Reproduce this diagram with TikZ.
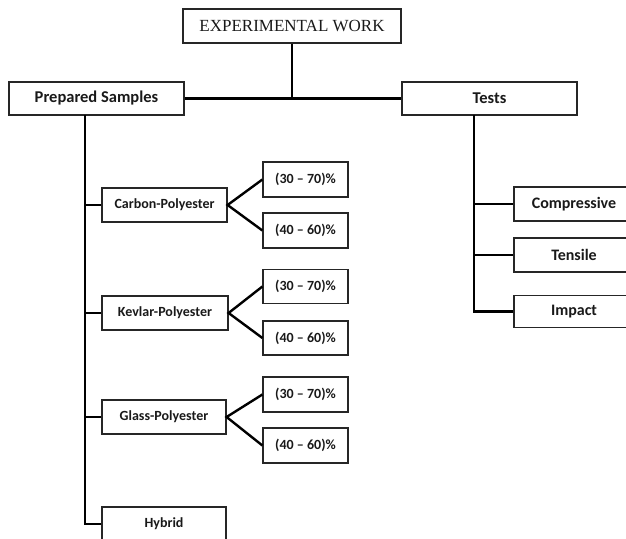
\documentclass[tikz,border=0pt]{standalone}
\usepackage{fontspec}
\setmainfont{Carlito}
\newfontfamily\serifface{Liberation Serif}
\begin{document}
\begin{tikzpicture}[x=1pt,y=-1pt,
  box/.style={draw=black!85, line width=1.2pt, rectangle, inner sep=0pt, anchor=center, text=black!90},
  big/.style={box, font=\fontsize{16.5}{18}\selectfont\bfseries},
  sub/.style={box, minimum width=125pt, minimum height=34pt, font=\fontsize{14}{16}\selectfont\bfseries},
  pct/.style={box, minimum width=85pt, minimum height=35pt, font=\fontsize{14}{16}\selectfont\bfseries},
  testbox/.style={box, minimum width=120pt, minimum height=34pt, font=\fontsize{16}{18}\selectfont\bfseries},
  conn/.style={line width=2.4pt, black}
]
\useasboundingbox (0,0) rectangle (626,538);
\clip (0,0) rectangle (626,538);

\node[box, minimum width=218pt, minimum height=34pt, font=\serifface\fontsize{17}{19}\selectfont] (ew) at (292,26) {EXPERIMENTAL WORK};
\node[big, minimum width=175pt, minimum height=33pt] (ps) at (96.5,98.5) {Prepared Samples};
\node[big, minimum width=175pt, minimum height=33pt] (tests) at (489.5,98.5) {Tests};

\node[sub] (carbon) at (164.5,205) {Carbon-Polyester};
\node[pct] (c30) at (305.5,179.5) {(30 – 70)\%};
\node[pct] (c40) at (305.5,230.5) {(40 – 60)\%};

\node[sub, minimum width=126pt] (kevlar) at (165,313) {Kevlar-Polyester};
\node[pct, minimum height=34pt] (k30) at (305.5,286.5) {(30 – 70)\%};
\node[pct, minimum height=34pt] (k40) at (305.5,338) {(40 – 60)\%};

\node[sub, minimum width=124pt] (glass) at (164,417) {Glass-Polyester};
\node[pct] (g30) at (305.5,394.5) {(30 – 70)\%};
\node[pct] (g40) at (305.5,445.5) {(40 – 60)\%};

\node[sub, minimum width=124pt] (hybrid) at (164,524) {Hybrid};

\node[testbox] (comp) at (574,204) {Compressive};
\node[testbox] (tens) at (574,255) {Tensile};
\node[testbox, minimum height=32pt] (imp) at (574,311.5) {Impact};

% top connectors
\coordinate (j) at (ew.south |- ps.east);
\draw[conn] (ps.east) -- (tests.west);
\draw[conn] (ew.south) -- (j);

% left trunk
\coordinate (lt) at (85,115);
\draw[conn] (lt) |- (hybrid.west);
\draw[conn] (lt |- carbon.west) -- (carbon.west);
\draw[conn] (lt |- kevlar.west) -- (kevlar.west);
\draw[conn] (lt |- glass.west) -- (glass.west);

% sub branches
\draw[conn] (c30.west) -- (carbon.east) -- (c40.west);
\draw[conn] (k30.west) -- (kevlar.east) -- (k40.west);
\draw[conn] (g30.west) -- (glass.east) -- (g40.west);

% right trunk
\coordinate (rt) at (474,115);
\draw[conn] (rt) |- (imp.west);
\draw[conn] (rt |- comp.west) -- (comp.west);
\draw[conn] (rt |- tens.west) -- (tens.west);
\end{tikzpicture}
\end{document}
